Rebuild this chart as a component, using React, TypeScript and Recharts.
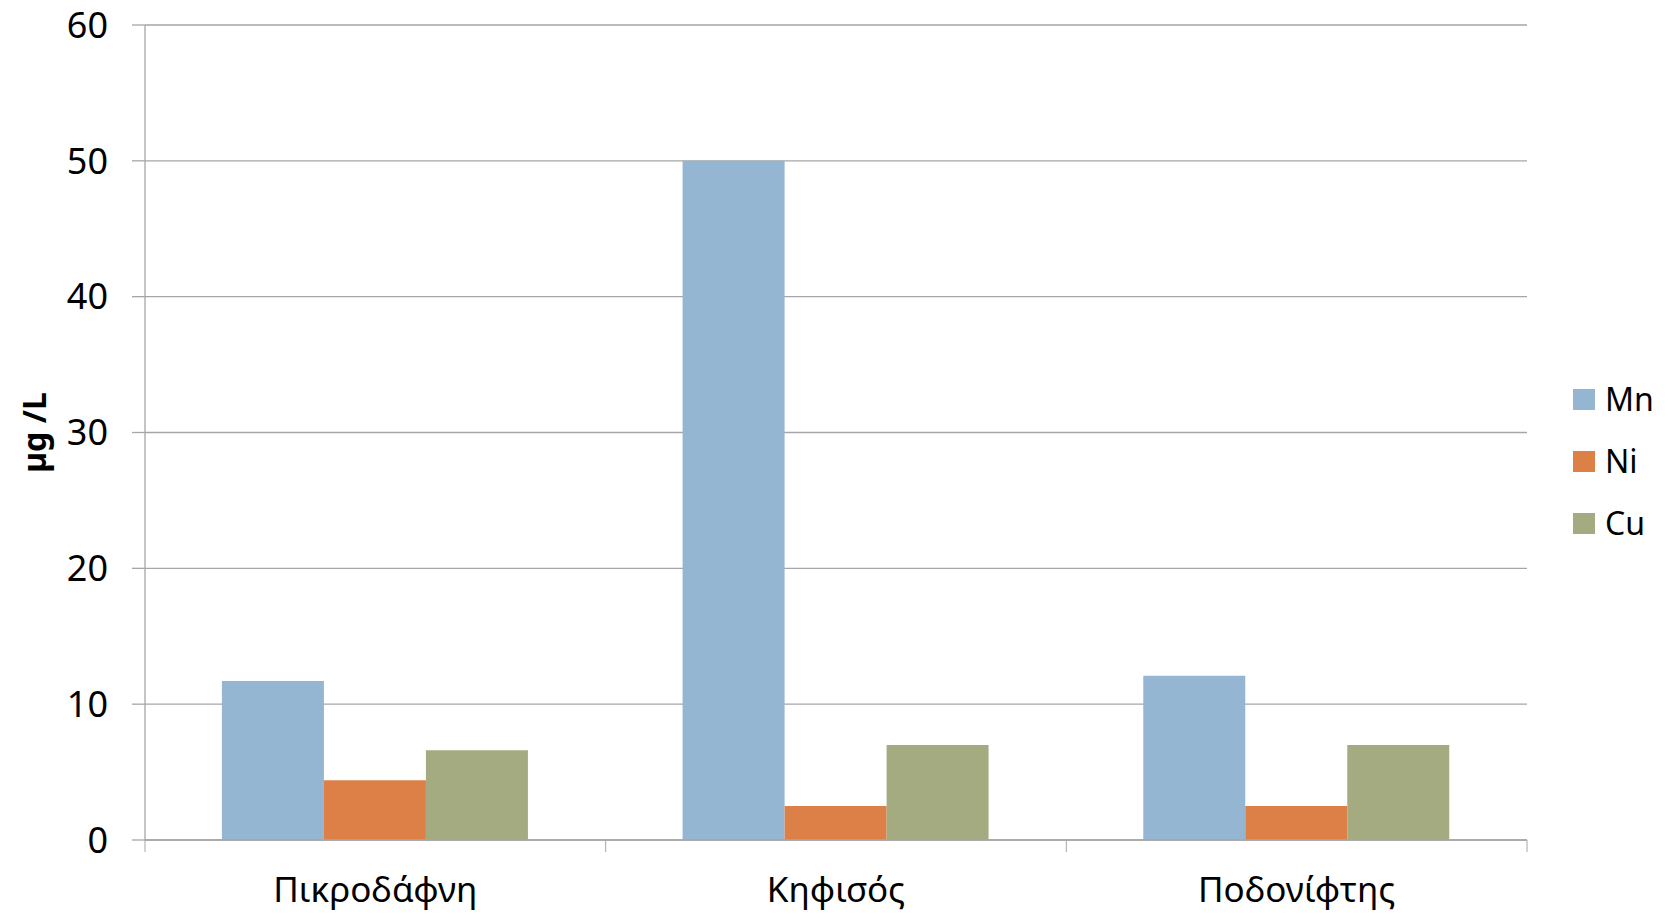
import React from "react";
import {
  BarChart,
  Bar,
  XAxis,
  YAxis,
  CartesianGrid,
} from "recharts";

const stations = ["Πικροδάφνη", "Κηφισός", "Ποδονίφτης"];
const mnValues = [11.7, 50, 12.1];
const niValues = [4.4, 2.5, 2.5];
const cuValues = [6.6, 7.0, 7.0];
const yTicks = [0, 10, 20, 30, 40, 50, 60];

const series = [
  { key: "Mn", color: "#94B6D2" },
  { key: "Ni", color: "#DD8047" },
  { key: "Cu", color: "#A5AB81" },
];

const data = stations.map((name, i) => ({
  name,
  Mn: mnValues[i],
  Ni: niValues[i],
  Cu: cuValues[i],
}));

const FONT = "'Noto Sans', 'DejaVu Sans', sans-serif";
const GRID = "#A6A6A6";

function CategoryTick(props: any) {
  const { x, y, payload, index } = props;
  const half = payload?.offset ?? 230;
  const axisY = y - 37;
  const isLast = index === stations.length - 1;
  return (
    <g>
      <line x1={x - half} x2={x - half} y1={axisY} y2={axisY + 12} stroke={GRID} />
      {isLast && (
        <line x1={x + half} x2={x + half} y1={axisY} y2={axisY + 12} stroke={GRID} />
      )}
      <text
        x={x}
        y={y}
        dy="0.71em"
        textAnchor="middle"
        fill="#000"
        fontSize={35}
        fontFamily={FONT}
      >
        {payload.value}
      </text>
    </g>
  );
}

function YLabel(props: any) {
  const { viewBox } = props;
  const cx = viewBox.x + 33;
  const cy = viewBox.y + viewBox.height / 2;
  return (
    <text
      x={cx}
      y={cy}
      transform={`rotate(-90, ${cx}, ${cy})`}
      textAnchor="middle"
      dominantBaseline="central"
      fontSize={32}
      fontWeight="bold"
      fontFamily={FONT}
      fill="#000"
    >
      µg /L
    </text>
  );
}

export default function App() {
  return (
    <div
      style={{
        position: "absolute",
        left: 0,
        top: 0,
        width: 1669,
        height: 919,
        background: "#fff",
        fontFamily: FONT,
      }}
    >
      <BarChart
        width={1669}
        height={919}
        data={data}
        margin={{ top: 25, right: 142, bottom: 0, left: 0 }}
        barCategoryGap="16.7%"
        barGap={0}
      >
        <CartesianGrid
          horizontal={true}
          vertical={false}
          stroke={GRID}
          strokeWidth={1.3}
        />
        <XAxis
          dataKey="name"
          height={79}
          axisLine={{ stroke: GRID, strokeWidth: 1.3 }}
          tickLine={false}
          tickSize={0}
          tickMargin={37}
          interval={0}
          tick={<CategoryTick />}
        />
        <YAxis
          width={145}
          domain={[0, 60]}
          ticks={yTicks}
          interval={0}
          axisLine={{ stroke: GRID, strokeWidth: 1.3 }}
          tickLine={{ stroke: GRID, strokeWidth: 1.3 }}
          tickSize={13}
          tickMargin={24}
          tick={{ fontSize: 36, fill: "#000", fontFamily: FONT }}
          label={<YLabel />}
        />
        {series.map((s) => (
          <Bar
            key={s.key}
            dataKey={s.key}
            fill={s.color}
            isAnimationActive={false}
          />
        ))}
      </BarChart>
      <div style={{ position: "absolute", left: 1573, top: 368 }}>
        {series.map((s) => (
          <div
            key={s.key}
            style={{
              display: "flex",
              alignItems: "center",
              height: 62,
            }}
          >
            <span
              style={{
                display: "inline-block",
                width: 22,
                height: 21,
                background: s.color,
                marginRight: 10,
              }}
            />
            <span style={{ fontSize: 32, color: "#000", lineHeight: 1 }}>
              {s.key}
            </span>
          </div>
        ))}
      </div>
    </div>
  );
}
